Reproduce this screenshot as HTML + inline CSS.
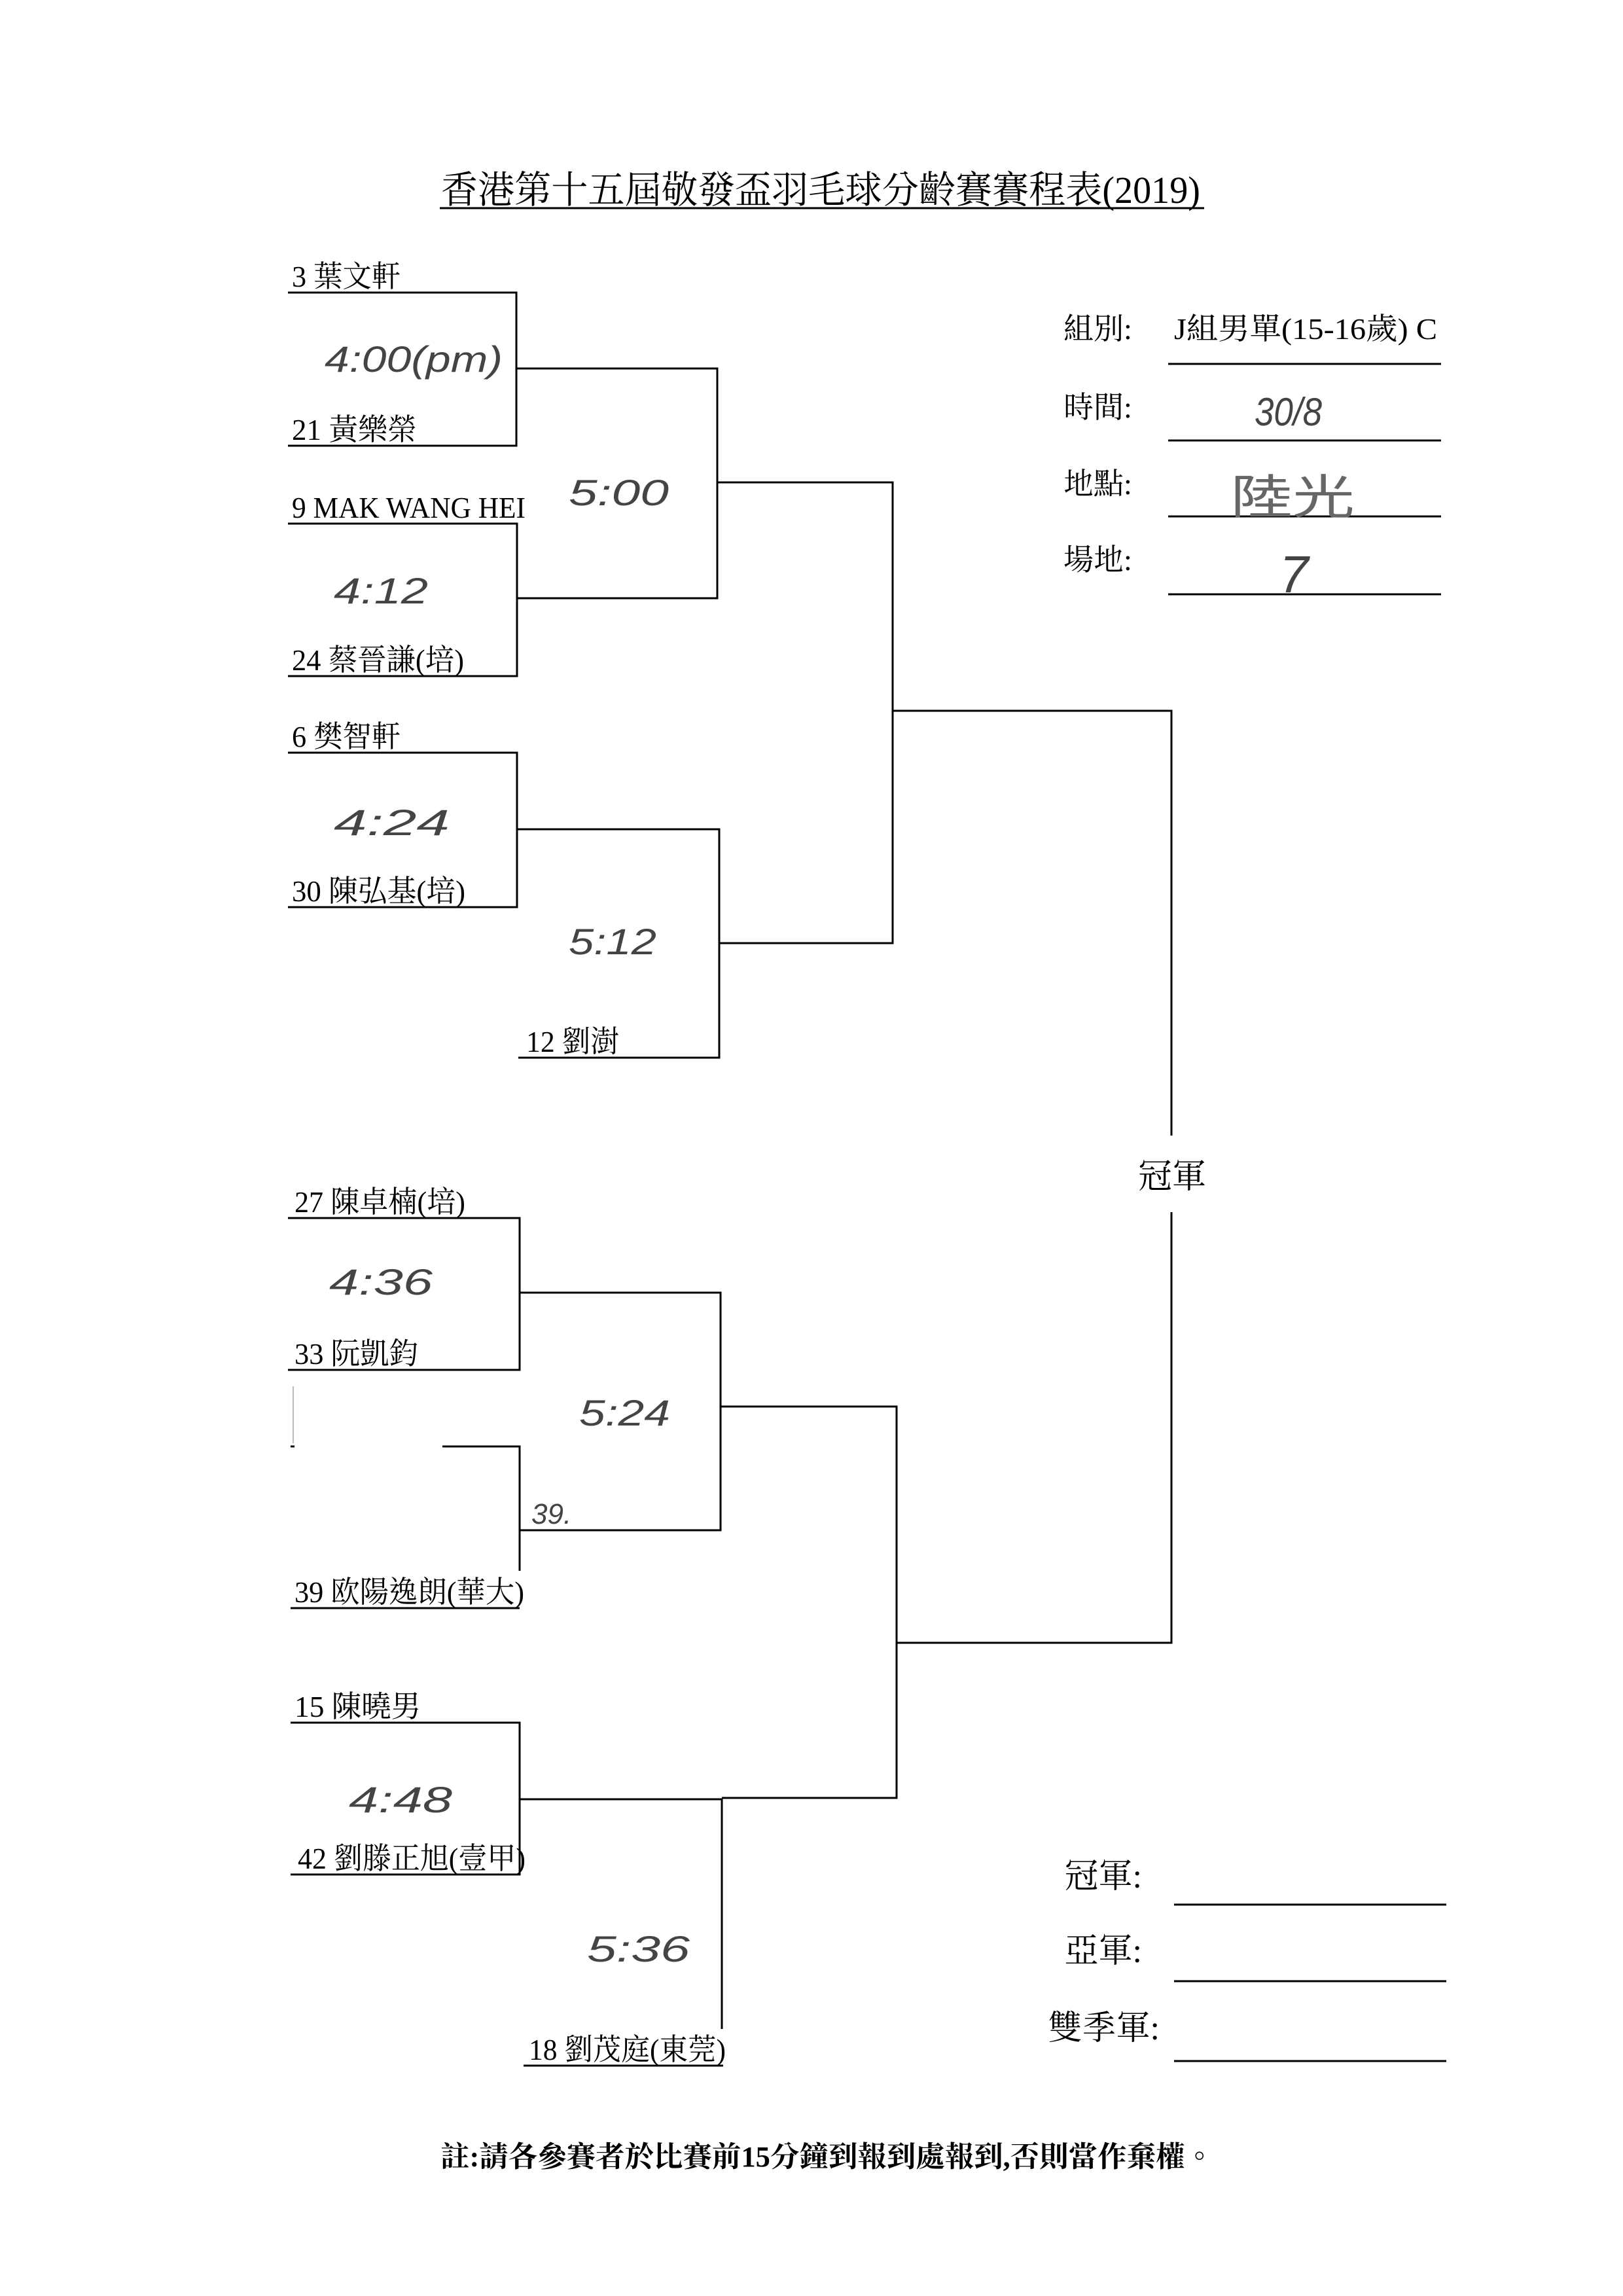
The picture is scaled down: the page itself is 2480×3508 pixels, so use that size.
<!DOCTYPE html>
<html><head><meta charset="utf-8"><style>
html,body{margin:0;padding:0;background:#fff;}
svg{display:block;}
.t{font-family:"Liberation Serif","Noto Serif CJK TC","Noto Serif CJK SC",serif;fill:#000;}
.h{font-family:"Liberation Sans","DejaVu Sans",sans-serif;font-style:italic;fill:#444;}
</style></head><body>
<svg width="2480" height="3508" viewBox="0 0 2480 3508" xmlns="http://www.w3.org/2000/svg">
<rect width="2480" height="3508" fill="#fff"/>
<text class="t" x="674" y="310" font-size="58" textLength="1160" lengthAdjust="spacingAndGlyphs">香港第十五屆敬發盃羽毛球分齡賽賽程表(2019)</text>
<line x1="672" y1="318" x2="1840" y2="318" stroke="#000" stroke-width="3"/>

<g fill="none" stroke="#000" stroke-width="3">
<path d="M440 447H789V681H440"/>
<path d="M789 563H1096V914H790"/>
<path d="M440 800H790V1033H440"/>
<path d="M1096 737H1364V1441H1099"/>
<path d="M440 1150H790V1386H440"/>
<path d="M790 1267H1099V1616H792"/>
<path d="M1364 1086H1790V1735"/>
<path d="M440 1861H794V2093H440"/>
<path d="M794 1975H1101V2338H794"/>
<path d="M676 2210H794V2400"/>
<path d="M444 2210H450"/>
<path d="M444 2457H794"/>
<path d="M1101 2149H1370V2747H1103"/>
<path d="M1370 2510H1790V1852"/>
<path d="M444 2632H794V2864H444"/>
<path d="M794 2749H1103V3100"/>
<path d="M800 3156H1105"/>
<path d="M1785 556H2202M1785 673H2202M1785 789H2202M1785 908H2202"/>
<path d="M1794 2910H2210M1794 3027H2210M1794 3149H2210"/>
</g>
<line x1="448" y1="2118" x2="448" y2="2205" stroke="#bbb" stroke-width="2"/>

<g class="t" font-size="46" lengthAdjust="spacingAndGlyphs">
<text x="446" y="438" textLength="166" lengthAdjust="spacingAndGlyphs">3 葉文軒</text>
<text x="446" y="672" textLength="191" lengthAdjust="spacingAndGlyphs">21 黃樂榮</text>
<text x="446" y="791" textLength="357" lengthAdjust="spacingAndGlyphs">9 MAK WANG HEI</text>
<text x="446" y="1024" textLength="263" lengthAdjust="spacingAndGlyphs">24 蔡晉謙(培)</text>
<text x="446" y="1141" textLength="166" lengthAdjust="spacingAndGlyphs">6 樊智軒</text>
<text x="446" y="1377" textLength="265" lengthAdjust="spacingAndGlyphs">30 陳弘基(培)</text>
<text x="804" y="1607" textLength="142" lengthAdjust="spacingAndGlyphs">12 劉澍</text>
<text x="450" y="1852" textLength="261" lengthAdjust="spacingAndGlyphs">27 陳卓楠(培)</text>
<text x="450" y="2084" textLength="189" lengthAdjust="spacingAndGlyphs">33 阮凱鈞</text>
<text x="450" y="2448" textLength="351" lengthAdjust="spacingAndGlyphs">39 欧陽逸朗(華大)</text>
<text x="450" y="2623" textLength="193" lengthAdjust="spacingAndGlyphs">15 陳曉男</text>
<text x="455" y="2855" textLength="348" lengthAdjust="spacingAndGlyphs">42 劉滕正旭(壹甲)</text>
<text x="808" y="3147" textLength="301" lengthAdjust="spacingAndGlyphs">18 劉茂庭(東莞)</text>
</g>

<text class="t" x="1791" y="1815" font-size="52" text-anchor="middle">冠軍</text>

<g class="t" font-size="46">
<text x="1625" y="518">組別:</text>
<text x="1625" y="638">時間:</text>
<text x="1625" y="755">地點:</text>
<text x="1625" y="871">場地:</text>
<text x="1794" y="518" textLength="402" lengthAdjust="spacingAndGlyphs">J組男單(15-16歲) C</text>
</g>

<g class="t" font-size="52">
<text x="1745" y="2884" text-anchor="end">冠軍:</text>
<text x="1745" y="2998" text-anchor="end">亞軍:</text>
<text x="1772" y="3116" text-anchor="end">雙季軍:</text>
</g>

<text class="t" x="673" y="3310" font-size="44" font-weight="bold" textLength="1182" lengthAdjust="spacingAndGlyphs">註:請各參賽者於比賽前15分鐘到報到處報到,否則當作棄權。</text>

<g class="h" font-size="56">
<text x="496" y="568" textLength="272" lengthAdjust="spacingAndGlyphs">4:00(pm)</text>
<text x="869" y="772" textLength="153" lengthAdjust="spacingAndGlyphs">5:00</text>
<text x="510" y="922" textLength="144" lengthAdjust="spacingAndGlyphs">4:12</text>
<text x="510" y="1276" textLength="177" lengthAdjust="spacingAndGlyphs">4:24</text>
<text x="869" y="1458" textLength="134" lengthAdjust="spacingAndGlyphs">5:12</text>
<text x="503" y="1978" textLength="158" lengthAdjust="spacingAndGlyphs">4:36</text>
<text x="885" y="2178" textLength="139" lengthAdjust="spacingAndGlyphs">5:24</text>
<text x="533" y="2769" textLength="158" lengthAdjust="spacingAndGlyphs">4:48</text>
<text x="897" y="2997" textLength="157" lengthAdjust="spacingAndGlyphs">5:36</text>
<text x="812" y="2328" font-size="44">39.</text>
<text x="1917" y="650" font-size="60" textLength="103" lengthAdjust="spacingAndGlyphs">30/8</text>
<text x="1955" y="905" font-size="80">7</text>
</g>
<text x="1880" y="785" font-size="72" font-family="Noto Sans CJK TC,sans-serif" fill="#666" textLength="190" lengthAdjust="spacingAndGlyphs">陸光</text>
</svg>
</body></html>
